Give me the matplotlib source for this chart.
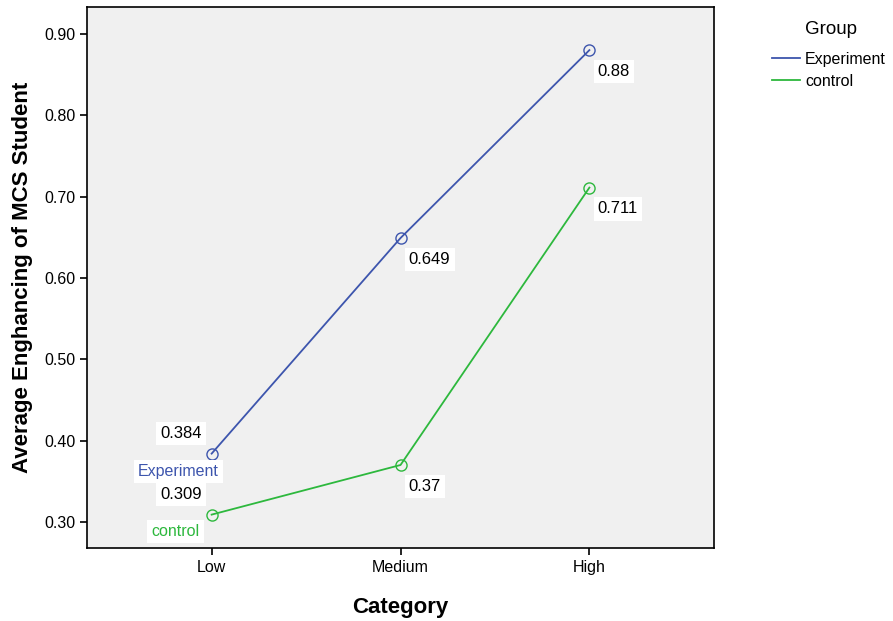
import numpy as np
import matplotlib
matplotlib.use("Agg")
import matplotlib.pyplot as plt

plt.rcParams['font.family'] = ['Liberation Sans', 'DejaVu Sans']

categories = ["Low", "Medium", "High"]
experiment = [0.384, 0.649, 0.88]
control = [0.309, 0.37, 0.711]
yticks = [0.30, 0.40, 0.50, 0.60, 0.70, 0.80, 0.90]

blue = "#3d55ad"
green = "#2db83d"

fig = plt.figure(figsize=(8.93, 6.21), dpi=100)
ax = fig.add_axes([0.0974, 0.1176, 0.7022, 0.8711])
ax.set_facecolor("#f0f0f0")

x = np.arange(len(categories))
l1, = ax.plot(x, experiment, color=blue, lw=1.3, marker="o", ms=8,
              mfc="none", mec=blue, mew=1.0, label="Experiment")
l2, = ax.plot(x, control, color=green, lw=1.3, marker="o", ms=8,
              mfc="none", mec=green, mew=1.0, label="control")

box = dict(boxstyle="square,pad=0.25", fc="white", ec="none")
# value labels: first point above-left, others below-right
for series in (experiment, control):
    for i, v in enumerate(series):
        if i == 0:
            off, ha, va = (-22, 9), "center", "bottom"
        else:
            off, ha, va = (6, -10), "left", "top"
        ax.annotate(str(v), (x[i], v), xytext=off, textcoords="offset points",
                    ha=ha, va=va, fontsize=12, bbox=box)

# line name labels at the low end
ax.annotate("Experiment", (x[0], experiment[0]), xytext=(-24, -13),
            textcoords="offset points", ha="center", va="center",
            fontsize=11.5, color=blue, bbox=box)
ax.annotate("control", (x[0], control[0]), xytext=(-26, -12),
            textcoords="offset points", ha="center", va="center",
            fontsize=11.5, color=green, bbox=box)

ax.set_xlim(-0.66, 2.66)
ax.set_ylim(0.268, 0.933)
ax.set_xticks(x)
ax.set_xticklabels(categories)
ax.set_yticks(yticks)
ax.set_yticklabels(["%.2f" % t for t in yticks])
ax.tick_params(labelsize=11.5, length=5, width=1.2, direction="out")
for s in ax.spines.values():
    s.set_linewidth(1.2)

ax.set_xlabel("Category", fontsize=16, fontweight="bold", labelpad=16)
ax.set_ylabel("Average Enghancing of MCS Student", fontsize=16,
              fontweight="bold", labelpad=8)

# legend (title drawn separately for spacing)
fig.text(0.9305, 0.952, "Group", ha="center", va="center", fontsize=13.5)
leg = fig.legend(handles=[l1, l2], labels=["Experiment", "control"],
                 loc="upper left", bbox_to_anchor=(0.864, 0.917),
                 frameon=False, fontsize=11.5, borderpad=0, borderaxespad=0,
                 handlelength=1.8, handletextpad=0.3, labelspacing=0.45)
for h in leg.legend_handles:
    h.set_marker("")

fig.savefig("out.png", dpi=100)
